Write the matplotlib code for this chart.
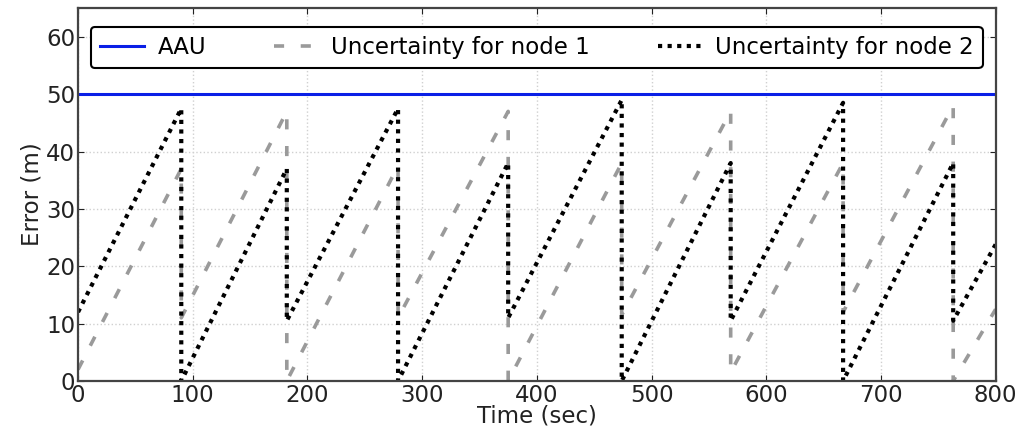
import numpy as np
import matplotlib
matplotlib.use('Agg')
import matplotlib.pyplot as plt

# threshold and the two sawtooth traces (knots)
aau = 50
node_x = [0, 90, 90, 182, 182, 279, 279, 375, 375, 474, 474, 569, 569, 667, 667, 763, 763, 800]
node1_y = [2, 37, 11, 47, 0, 37.5, 11, 47, 0, 38, 11.5, 47, 1.5, 38, 12, 48, 0, 12.5]
node2_y = [12, 47.5, 0, 37, 10.5, 47.5, 0, 38, 11, 49, 0, 38, 10.5, 48.5, 0, 38, 10.5, 23.8]

xticks = [0, 100, 200, 300, 400, 500, 600, 700, 800]
yticks = [0, 10, 20, 30, 40, 50, 60]

plt.rcParams['font.family'] = ['DejaVu Sans']
fig = plt.figure(figsize=(10.31, 4.29), dpi=100)
ax = fig.add_axes([0.0757, 0.112, 0.890, 0.869])

ax.axhline(aau, color='#0a1fe6', lw=2.2, label='AAU')
ax.plot(node_x, node1_y, color='#9a9a9a', lw=2.6, dashes=(2.8, 4.6), label='Uncertainty for node 1')
ax.plot(node_x, node2_y, color='black', lw=3, dashes=(1, 1.3), label='Uncertainty for node 2')

ax.set_xlim(0, 800)
ax.set_ylim(0, 65)
ax.set_xticks(xticks)
ax.set_yticks(yticks)
ax.grid(True, color='#d0d0d0', linestyle=':', lw=1)
ax.tick_params(direction='in', labelsize=16.5, pad=2, colors='#222222', length=4, top=True, right=True)
for s in ax.spines.values():
    s.set_color('#444444')
    s.set_linewidth(1.6)

ax.set_xlabel('Time (sec)', fontsize=16.5, labelpad=-1.5, color='#222222')
ax.set_ylabel('Error (m)', fontsize=16.5, labelpad=2, color='#222222')

leg = ax.legend(loc='lower left', bbox_to_anchor=(0.014, 0.839, 0.972, 0.123), mode='expand',
                ncol=3, fontsize=16.5, fancybox=True, handlelength=1.9, handletextpad=0.6,
                borderaxespad=0)
leg.get_frame().set_edgecolor('black')
leg.get_frame().set_linewidth(1.5)
leg.get_frame().set_alpha(1)

fig.savefig('out.png', dpi=100)
